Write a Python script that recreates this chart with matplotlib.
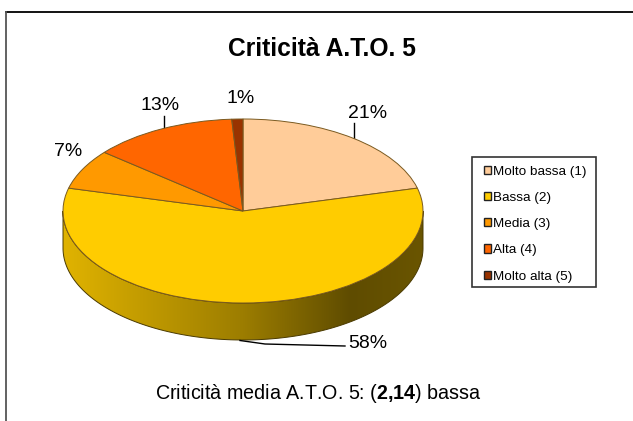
#!/usr/bin/python3
#-*-coding:utf-8-*-

import numpy as np
import matplotlib
matplotlib.use('Agg')
import matplotlib.pyplot as plt
from matplotlib.colors import LinearSegmentedColormap
from matplotlib.patches import Polygon, Rectangle

plt.rcParams['font.family'] = ['Liberation Sans', 'DejaVu Sans']
plt.rcParams['mathtext.fontset'] = 'custom'
plt.rcParams['mathtext.rm'] = 'Liberation Sans'
plt.rcParams['mathtext.bf'] = 'Liberation Sans:bold'

categories = ['Molto bassa (1)', 'Bassa (2)', 'Media (3)', 'Alta (4)', 'Molto alta (5)']
values = [21, 58, 7, 13, 1]
colours = ['#FFCC99', '#FFCC00', '#FF9900', '#FF6600', '#993300']
title = 'Criticità A.T.O. 5'
note = r'Criticità media A.T.O. 5: ($\mathbf{2{,}14}$) bassa'

W, H = 633, 421
cx, cy, rx, ry, depth = 243, 211, 180, 92, 37

fig = plt.figure(figsize = (W/100, H/100), dpi = 100, facecolor = 'white')

# pixel axes for frame, text and the pie wall
back = fig.add_axes([0, 0, 1, 1], zorder = 0)
back.axis('off')

# frame only shows on top and left
back.plot([6, W], [12, 12], color = 'black', lw = 1.3)
back.plot([6, 6], [12, H], color = '#555555', lw = 1.3)

# wall of the pie
t = np.linspace(np.pi, 0, 200)
edge_x = cx + rx*np.cos(t)
edge_y = cy + ry*np.sin(t)
wall_xy = np.vstack([np.column_stack([edge_x, edge_y + depth]),
                     np.column_stack([edge_x[::-1], edge_y[::-1]])])
wall = Polygon(wall_xy, closed = True, facecolor = 'none', edgecolor = '#4A3A00', lw = 0.7, zorder = 3)
back.add_patch(wall)
cmap = LinearSegmentedColormap.from_list('wall', [(0, '#E0B300'), (0.5, '#9C7D00'), (0.8, '#5F4C00'), (1, '#6A5500')])
im = back.imshow(np.linspace(0, 1, 256).reshape(1, -1), cmap = cmap, aspect = 'auto',
                 extent = [cx - rx, cx + rx, cy + ry + depth, cy], zorder = 2)
im.set_clip_path(wall)
back.set_xlim(0, W)
back.set_ylim(H, 0)

# top of the pie
ax = fig.add_axes([(cx - rx)/W, 1 - (cy + ry)/H, 2*rx/W, 2*ry/H], zorder = 1)
wedges, _ = ax.pie(values, colors = colours, startangle = 90, counterclock = False, radius = 1,
                   wedgeprops = {'edgecolor': '#7A5A20', 'linewidth': 0.7, 'clip_on': False})
ax.set_aspect('auto')
ax.set_xlim(-1, 1)
ax.set_ylim(-1, 1)
ax.patch.set_alpha(0)

# percent labels and leader lines
label_x = [368, 368, 68, 160, 241]
label_y = [114, 343, 152, 105.5, 98.5]
for v, x, y in zip(values, label_x, label_y):
    back.text(x, y, f'{v}%', fontsize = 14, ha = 'center', va = 'center', color = 'black')
back.plot([354, 354], [123, 139], color = 'black', lw = 1)
back.plot([164, 164], [116, 130], color = 'black', lw = 1)
back.plot([240, 265, 345], [340.5, 344, 346], color = 'black', lw = 1, zorder = 4)

back.text(322, 56, title, fontsize = 17.7, fontweight = 'bold', ha = 'center', va = 'baseline')
back.text(318, 399, note, fontsize = 14.2, ha = 'center', va = 'baseline')

# legend box drawn apart, its padding is not the same on each side
back.add_patch(Rectangle((472, 157), 124, 130, facecolor = 'white', edgecolor = '#333333', lw = 1.2, zorder = 5))
leg = fig.legend(wedges, categories, loc = 'upper left', bbox_to_anchor = (483.5/W, 1 - 165.5/H),
                 bbox_transform = fig.transFigure, fontsize = 9.7, frameon = False,
                 borderaxespad = 0, borderpad = 0, handlelength = 0.56, handleheight = 0.56,
                 handletextpad = 0.15, labelspacing = 1.06)
for h in leg.legend_handles:
    h.set_edgecolor('#222222')
    h.set_linewidth(1)

plt.savefig('out.png', dpi = 100)
